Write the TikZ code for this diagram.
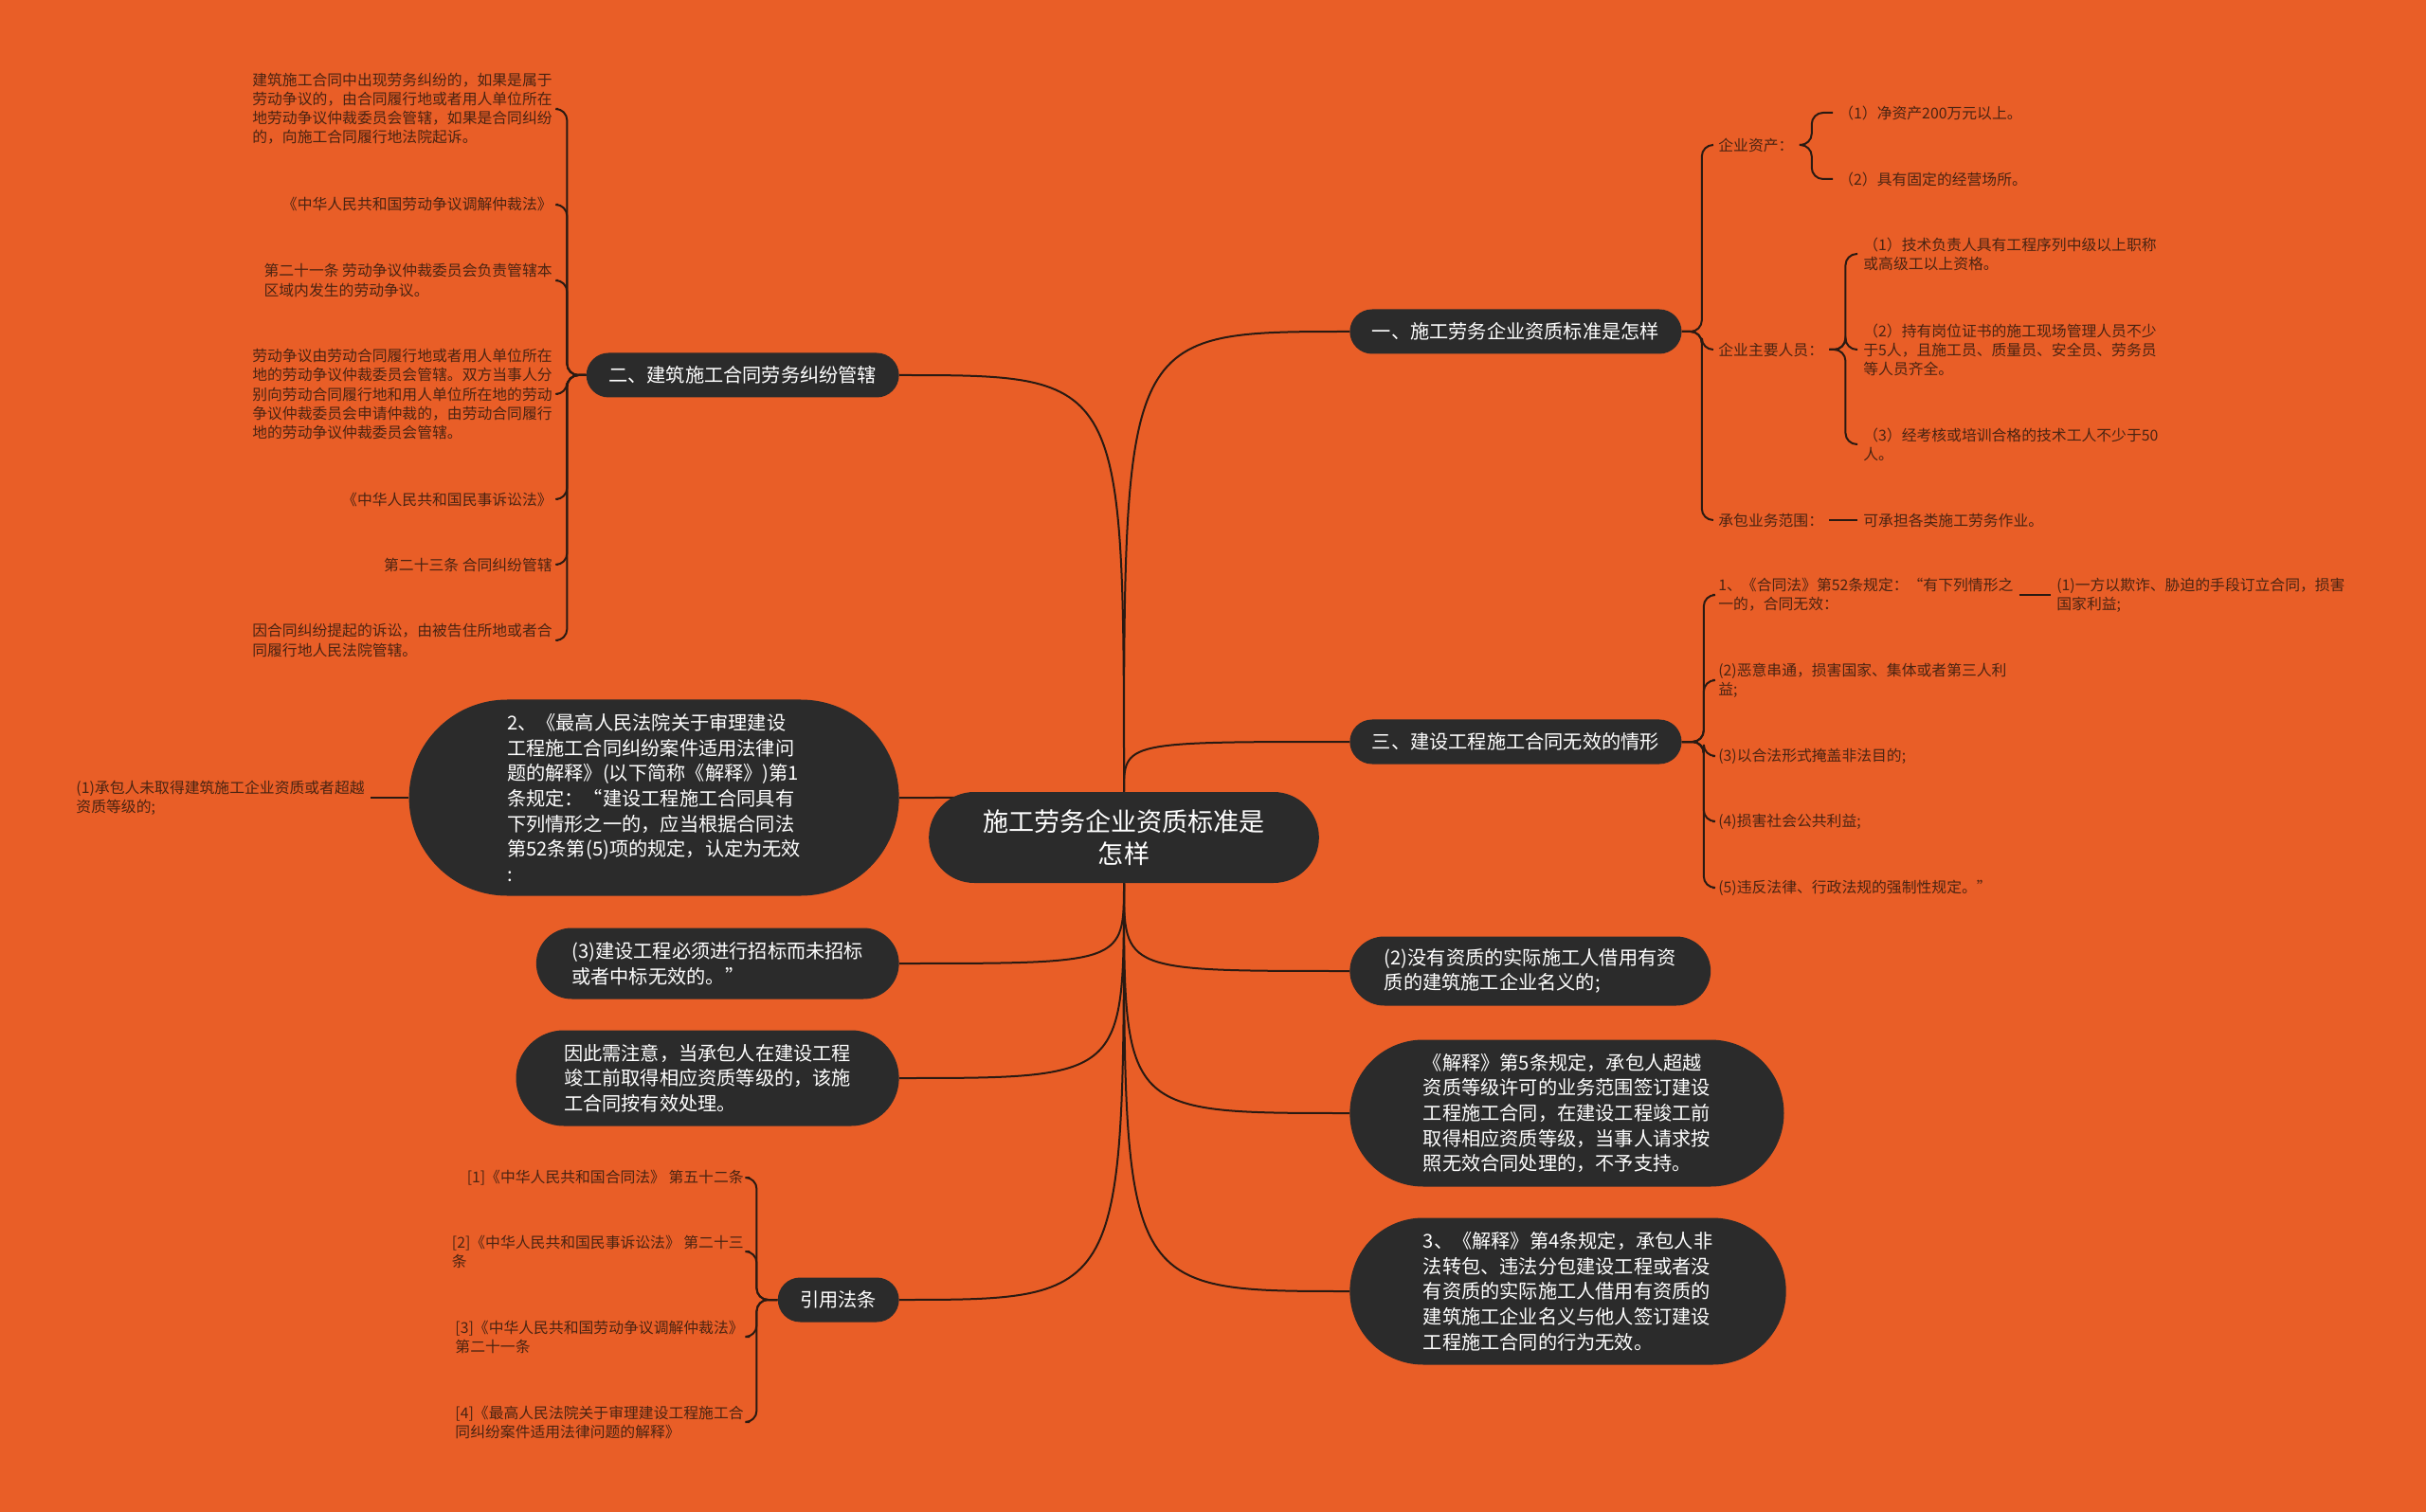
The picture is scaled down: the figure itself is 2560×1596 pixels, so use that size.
\documentclass[tikz,border=0pt]{standalone}
\usepackage{fontspec}
\setmainfont{Noto Sans CJK SC}
\usepackage{tikz}
\usetikzlibrary{backgrounds}
\definecolor{mapbg}{HTML}{E95E27}
\definecolor{nodebg}{HTML}{2B2B2B}
\definecolor{linkcol}{HTML}{2A1A12}
\definecolor{leaftext}{HTML}{4A2412}

\begin{document}
\begin{tikzpicture}[x=0.2mm, y=-0.2mm,
    topic/.style={rectangle, fill=nodebg, text=white, align=center,
      font=\fontsize{15.4}{19.3}\selectfont, rounded corners=9.6mm,
      inner xsep=11.4mm, inner ysep=0pt, minimum height=19.2mm},
    branch/.style={rectangle, fill=nodebg, text=white, align=left,
      font=\fontsize{11.5}{15.2}\selectfont, rounded corners=#1,
      inner xsep=#1, inner ysep=0pt, minimum height=2*#1},
    leaf/.style={text=leaftext, align=left, font=\fontsize{9}{11.4}\selectfont,
      inner xsep=1.2mm, inner ysep=0.5mm},
    link/.style={draw=linkcol, line width=0.4mm},
    bracket/.style={link, rounded corners=2.4mm},
  ]
  \useasboundingbox (0,0) rectangle (2560,1596);

  % centre
  \node[topic] (c) at (1186,884) {施工劳务企业资质标准是\\怎样};

  % right branches
  \node[branch=4.7mm, anchor=west] (n1) at (1424,350) {一、施工劳务企业资质标准是怎样};
  \node[branch=4.7mm, anchor=west] (n3) at (1424,783) {三、建设工程施工合同无效的情形};
  \node[branch=7.3mm, anchor=west] (n4) at (1424,1025) {(2)没有资质的实际施工人借用有资\\质的建筑施工企业名义的;};
  \node[branch=15.5mm, anchor=west] (n5) at (1424,1175) {《解释》第5条规定，承包人超越\\资质等级许可的业务范围签订建设\\工程施工合同，在建设工程竣工前\\取得相应资质等级，当事人请求按\\照无效合同处理的，不予支持。};
  \node[branch=15.5mm, anchor=west] (n6) at (1424,1363) {3、《解释》第4条规定，承包人非\\法转包、违法分包建设工程或者没\\有资质的实际施工人借用有资质的\\建筑施工企业名义与他人签订建设\\工程施工合同的行为无效。};

  % left branches
  \node[branch=4.7mm, anchor=east] (m1) at (949,396) {二、建筑施工合同劳务纠纷管辖};
  \node[branch=20.7mm, anchor=east] (m2) at (949,842) {2、《最高人民法院关于审理建设\\工程施工合同纠纷案件适用法律问\\题的解释》(以下简称《解释》)第1\\条规定：“建设工程施工合同具有\\下列情形之一的，应当根据合同法\\第52条第(5)项的规定，认定为无效\\:};
  \node[branch=7.5mm, anchor=east] (m3) at (949,1017) {(3)建设工程必须进行招标而未招标\\或者中标无效的。”};
  \node[branch=10.1mm, anchor=east] (m4) at (949,1138) {因此需注意，当承包人在建设工程\\竣工前取得相应资质等级的，该施\\工合同按有效处理。};
  \node[branch=4.7mm, anchor=east] (m5) at (949,1372) {引用法条};

  % leaves of 一
  \node[leaf, anchor=west] (a1) at (1807,153) {企业资产：};
  \node[leaf, anchor=west] (a2) at (1807,369) {企业主要人员：};
  \node[leaf, anchor=west] (a3) at (1807,549) {承包业务范围：};
  \node[leaf, anchor=west] (a11) at (1934,119) {（1）净资产200万元以上。};
  \node[leaf, anchor=west] (a12) at (1934,189) {（2）具有固定的经营场所。};
  \foreach \n/\y/\t in {
      a21/268/{（1）技术负责人具有工程序列中级以上职称\\或高级工以上资格。},
      a22/369/{（2）持有岗位证书的施工现场管理人员不少\\于5人，且施工员、质量员、安全员、劳务员\\等人员齐全。},
      a23/469/{（3）经考核或培训合格的技术工人不少于50\\人。},
      a31/549/{可承担各类施工劳务作业。}} {
    \node[leaf, anchor=west] (\n) at (1960,\y) {\t};
  }

  % leaves of 三
  \foreach \n/\y/\t in {
      b1/628/{1、《合同法》第52条规定：“有下列情形之\\一的，合同无效：},
      b2/718/{(2)恶意串通，损害国家、集体或者第三人利\\益;},
      b3/798/{(3)以合法形式掩盖非法目的;},
      b4/867/{(4)损害社会公共利益;},
      b5/937/{(5)违反法律、行政法规的强制性规定。”}} {
    \node[leaf, anchor=west] (\n) at (1807,\y) {\t};
  }
  \node[leaf, anchor=west] (b11) at (2164,628) {(1)一方以欺诈、胁迫的手段订立合同，损害\\国家利益;};

  % leaves of 二
  \foreach \n/\y/\t in {
      l1/115/{建筑施工合同中出现劳务纠纷的，如果是属于\\劳动争议的，由合同履行地或者用人单位所在\\地劳动争议仲裁委员会管辖，如果是合同纠纷\\的，向施工合同履行地法院起诉。},
      l2/216/{《中华人民共和国劳动争议调解仲裁法》},
      l3/296/{第二十一条 劳动争议仲裁委员会负责管辖本\\区域内发生的劳动争议。},
      l4/416/{劳动争议由劳动合同履行地或者用人单位所在\\地的劳动争议仲裁委员会管辖。双方当事人分\\别向劳动合同履行地和用人单位所在地的劳动\\争议仲裁委员会申请仲裁的，由劳动合同履行\\地的劳动争议仲裁委员会管辖。},
      l5/527/{《中华人民共和国民事诉讼法》},
      l6/596/{第二十三条 合同纠纷管辖},
      l7/676/{因合同纠纷提起的诉讼，由被告住所地或者合\\同履行地人民法院管辖。}} {
    \node[leaf, anchor=east] (\n) at (589,\y) {\t};
  }
  \node[leaf, anchor=east] (l8) at (391,842) {(1)承包人未取得建筑施工企业资质或者超越\\资质等级的;};

  % leaves of 引用法条
  \foreach \n/\y/\t in {
      r1/1243/{[1]《中华人民共和国合同法》 第五十二条},
      r2/1321/{[2]《中华人民共和国民事诉讼法》 第二十三\\条},
      r3/1411/{[3]《中华人民共和国劳动争议调解仲裁法》\\第二十一条},
      r4/1501/{[4]《最高人民法院关于审理建设工程施工合\\同纠纷案件适用法律问题的解释》}} {
    \node[leaf, anchor=east] (\n) at (791,\y) {\t};
  }

  \begin{scope}[on background layer]
    \fill[mapbg] (0,0) rectangle (2560,1596);
    % centre to branches
    \foreach \n in {n1,n3}
      \draw[link] (c.north) .. controls (c.north |- \n.west) .. (\n.west);
    \foreach \n in {m1,m2}
      \draw[link] (c.north) .. controls (c.north |- \n.east) .. (\n.east);
    \foreach \n in {n4,n5,n6}
      \draw[link] (c.south) .. controls (c.south |- \n.west) .. (\n.west);
    \foreach \n in {m3,m4,m5}
      \draw[link] (c.south) .. controls (c.south |- \n.east) .. (\n.east);
    % brackets
    \foreach \n in {a1,a2,a3}
      \draw[bracket] (n1.east) -- ++(21,0) |- (\n.west);
    \foreach \n in {a11,a12}
      \draw[bracket] (a1.east) -- ++(13,0) |- (\n.west);
    \foreach \n in {a21,a22,a23}
      \draw[bracket] (a2.east) -- ++(17,0) |- (\n.west);
    \draw[link] (a3.east) -- (a31.west);
    \foreach \n in {b1,b2,b3,b4,b5}
      \draw[bracket] (n3.east) -- ++(23,0) |- (\n.west);
    \draw[link] (b1.east) -- (b11.west);
    \foreach \n in {l1,l2,l3,l4,l5,l6,l7}
      \draw[bracket] (m1.west) -- ++(-20,0) |- (\n.east);
    \draw[link] (m2.west) -- (l8.east);
    \foreach \n in {r1,r2,r3,r4}
      \draw[bracket] (m5.west) -- ++(-22,0) |- (\n.east);
  \end{scope}
\end{tikzpicture}
\end{document}
